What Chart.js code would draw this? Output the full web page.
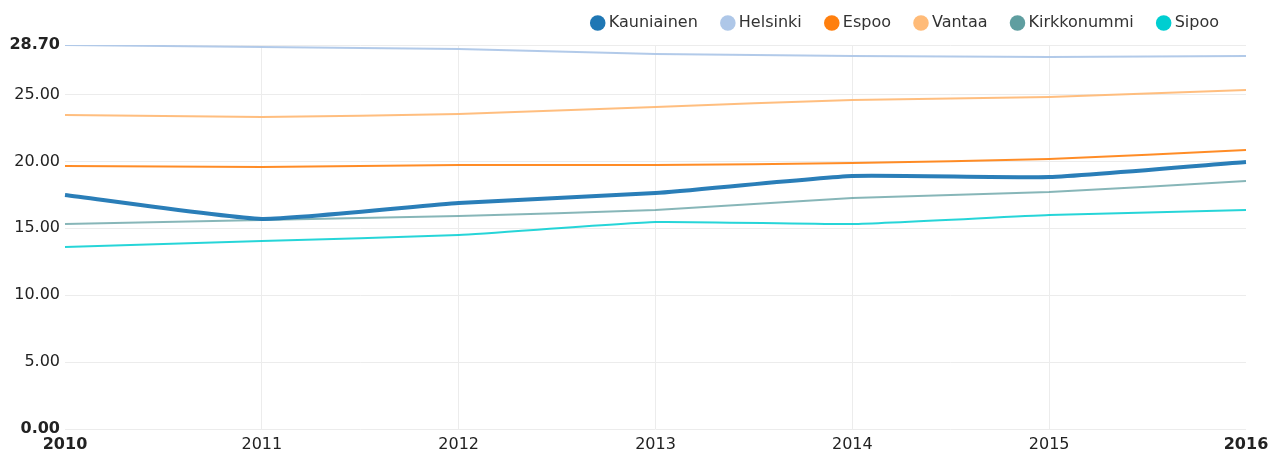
<!DOCTYPE html>
<html>
<head>
<meta charset="utf-8">
<script src="https://cdn.jsdelivr.net/npm/chart.js@4/dist/chart.umd.min.js"></script>
<style>
  html, body { margin: 0; padding: 0; background: #fff; }
  #wrap { width: 1271px; height: 452px; }
</style>
</head>
<body>
<div id="wrap"><canvas id="chart-municipalities" width="1271" height="452"></canvas></div>
<script>
// years on the x axis
const years = ['2010', '2011', '2012', '2013', '2014', '2015', '2016'];

// values per municipality
const kauniainen = [17.49, 15.70, 16.89, 17.64, 18.91, 18.83, 19.96];
const helsinki = [28.70, 28.55, 28.40, 28.03, 27.88, 27.80, 27.88];
const espoo = [19.66, 19.58, 19.73, 19.73, 19.88, 20.18, 20.85];
const vantaa = [23.47, 23.32, 23.54, 24.07, 24.59, 24.81, 25.34];
const kirkkonummi = [15.32, 15.62, 15.92, 16.37, 17.26, 17.71, 18.53];
const sipoo = [13.60, 14.05, 14.50, 15.47, 15.32, 15.99, 16.37];

// y ticks: regular steps plus the max value
const yTicks = [0, 5, 10, 15, 20, 25, 28.7];
const yMax = 28.7;

const series = [
  { label: 'Kauniainen', data: kauniainen, color: '#1f77b4', line: 'rgba(31,119,180,0.95)', width: 4 },
  { label: 'Helsinki', data: helsinki, color: '#aec7e8', line: 'rgba(174,199,232,0.95)', width: 2 },
  { label: 'Espoo', data: espoo, color: '#ff7f0e', line: 'rgba(255,127,14,0.9)', width: 2 },
  { label: 'Vantaa', data: vantaa, color: '#ffbb78', line: 'rgba(255,187,120,0.95)', width: 2 },
  { label: 'Kirkkonummi', data: kirkkonummi, color: '#5f9ea0', line: 'rgba(95,158,160,0.75)', width: 2 },
  { label: 'Sipoo', data: sipoo, color: '#00ced1', line: 'rgba(0,206,209,0.85)', width: 2 }
];

const font = 'DejaVu Sans';
const ctx = document.getElementById('chart-municipalities');

// legend box height is fixed so the plot top lands where the original has it
const legendHeight = {
  id: 'legendHeight',
  beforeLayout(chart) {
    const lg = chart.legend;
    if (lg && !lg._fixedFit) {
      const fit = lg.fit;
      lg.fit = function () {
        fit.call(this);
        this.height = 57;
      };
      lg._fixedFit = true;
    }
  }
};

new Chart(ctx, {
  type: 'line',
  data: {
    labels: years,
    datasets: series.map(s => ({
      label: s.label,
      data: s.data,
      borderColor: s.line,
      backgroundColor: s.color,
      borderWidth: s.width,
      pointRadius: 0,
      pointHoverRadius: 0,
      tension: 0.15,
      fill: false
    }))
  },
  plugins: [legendHeight],
  options: {
    responsive: false,
    animation: false,
    layout: { padding: { top: -12, right: 25, left: 0, bottom: 0 } },
    plugins: {
      tooltip: { enabled: false },
      legend: {
        position: 'top',
        align: 'end',
        labels: {
          usePointStyle: true,
          pointStyle: 'circle',
          boxWidth: 6,
          boxHeight: 11,
          padding: 27,
          color: '#333',
          font: { family: font, size: 16 },
          generateLabels: function (chart) {
            const items = Chart.defaults.plugins.legend.labels.generateLabels(chart);
            items.forEach(it => {
              it.fillStyle = series[it.datasetIndex].color;
              it.strokeStyle = series[it.datasetIndex].color;
              it.lineWidth = 0;
            });
            return items;
          }
        }
      }
    },
    scales: {
      x: {
        type: 'category',
        offset: false,
        grid: {
          drawTicks: false,
          // no vertical line at the first and last year
          color: c => (c.index === 0 || c.index === years.length - 1) ? 'rgba(0,0,0,0)' : '#ececec'
        },
        border: { display: false },
        ticks: {
          padding: 6,
          maxRotation: 0,
          color: '#222',
          font: c => ({
            family: font,
            size: 16,
            weight: (c.index === 0 || c.index === years.length - 1) ? 'bold' : 'normal'
          })
        },
        afterFit: function (scale) {
          scale.height = 23;
          scale.paddingLeft = 0;
          scale.paddingRight = 0;
        }
      },
      y: {
        min: 0,
        max: yMax,
        grid: { color: '#ececec', drawTicks: false },
        border: { display: false },
        afterBuildTicks: function (scale) {
          scale.ticks = yTicks.map(v => ({ value: v }));
        },
        ticks: {
          padding: 5,
          color: '#222',
          callback: v => Number(v).toFixed(2),
          font: c => ({
            family: font,
            size: 16,
            weight: (c.index === 0 || c.index === yTicks.length - 1) ? 'bold' : 'normal'
          })
        },
        afterFit: function (scale) {
          scale.width = 65;
          scale.paddingTop = 0;
          scale.paddingBottom = 0;
        }
      }
    }
  }
});
</script>
</body>
</html>
